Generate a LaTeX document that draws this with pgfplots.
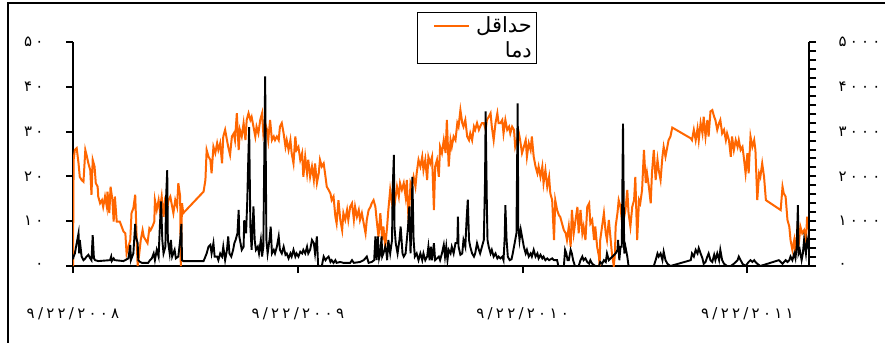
\documentclass[border=0pt]{standalone}
\usepackage{pgfplots}
\pgfplotsset{compat=1.18}
\usepackage{fontspec}
\setmainfont{Liberation Sans}
\newfontfamily\arabicfont[Script=Arabic]{DejaVu Sans}
\newfontfamily\pdigits[Script=Arabic,LetterSpace=22]{DejaVu Sans}
\TeXXeTstate=1
\definecolor{myorange}{RGB}{255,102,0}
\begin{document}
\begin{tikzpicture}
\begin{axis}[name=ax, scale only axis, width=736bp, height=224bp,
  xmin=0, xmax=1195, ymin=0, ymax=50,
  axis x line*=bottom, axis y line*=left,
  axis line style={line width=2.2bp,-},
  xtick={0,365,730,1095},
  xticklabels={۹/۲۲/۲۰۰۸,۹/۲۲/۲۰۰۹,۹/۲۲/۲۰۱۰,۹/۲۲/۲۰۱۱},
  ytick={0,10,20,30,40,50},
  yticklabels={۰,۱۰,۲۰,۳۰,۴۰,۵۰},
  tick align=outside, major tick length=7bp,
  tick style={line width=2bp,black},
  ticklabel style={font=\pdigits\fontsize{15}{17}\selectfont},
  xticklabel style={yshift=-31bp},
  yticklabel style={xshift=-19bp},
  legend style={at={(0.4674,1.135)}, anchor=north west, draw=black, line width=1.4bp,
    font=\arabicfont\fontsize{21}{24}\selectfont, row sep=3bp, inner sep=2.5bp,
    /tikz/every odd column/.append style={column sep=4bp}},
  legend cell align=right,
  legend image code/.code={\path (-13bp,0bp); \draw[#1] (0bp,0bp) -- (35bp,0bp);},
]
\addplot[myorange, line width=2bp] coordinates {
(0,0) (1,23.7) (3,25.9) (6,26.3) (9,22.9) (11,19.9) (14,19.2) (17,18.8) (20,25.9) (22,24.8) (25,22.9) (28,21.4) (30,15.9) (32,23.7) (35,22.2) (37,18.5) (40,17.7) (41,15.5) (44,14) (47,14.7) (49,13.2) (52,15.5) (55,13.2) (56,16.6) (59,11.8) (61,17.7) (64,14.7) (66,9.9) (68,15.5) (71,9.9) (74,9.9) (76,9.9) (79,8.8) (82,7.7) (85,7.3) (87,2.8) (90,4.3) (93,5.8) (95,11.8) (98,12.9) (101,15.9) (104,3.6) (105,0) (107,2.1) (110,5.8) (113,8) (115,6.5) (118,5.8) (121,5.1) (124,8.4) (126,8) (129,8.8) (132,9.9) (133,14.7) (136,12.5) (139,14.7) (141,12.5) (144,15.5) (147,11) (150,15.5) (152,11.8) (155,14.7) (158,15.5) (160,14) (163,11.8) (166,14.7) (169,13.2) (171,18.5) (174,15.5) (175,0) (177,14) (179,11.8) (212,16.6) (215,19.2) (217,25.9) (220,24.4) (223,23.7) (225,20.7) (228,26.6) (231,25.2) (234,27.4) (236,25.9) (239,27.4) (242,22.9) (244,28.9) (247,30.4) (250,28.1) (252,26.6) (255,24.8) (258,28.9) (261,29.6) (263,28.1) (266,34.1) (269,25.9) (271,30.4) (274,28.9) (277,31.9) (280,28.1) (282,32.6) (285,34.1)
(288,32.6) (290,33.3) (293,31.1) (296,28.9) (298,31.1) (301,29.6) (304,32.6) (307,34.1) (309,29.6) (312,31.9) (315,30.4) (317,28.1) (320,32.6) (323,28.1) (326,28.9) (328,28.1) (331,28.9) (334,28.1) (336,31.1) (339,31.9) (342,29.6) (345,26.6) (347,28.1) (350,25.9) (353,28.1) (355,25.2) (358,22.9) (361,28.9) (363,25.9) (366,26.6) (369,23.7) (372,25.2) (374,19.9) (377,24.4) (380,20.7) (382,23.7) (385,19.9) (388,22.2) (391,19.2) (393,22.9) (396,18.5) (399,20.7) (401,23.7) (404,22.2) (407,22.9) (410,19.9) (412,17.7) (415,17) (418,16.2) (420,14.7) (423,15.5) (426,11) (428,9.5) (431,14.7) (434,10.3) (437,8) (439,11.8) (442,10.3) (445,12.5) (447,10.3) (450,13.2) (453,14) (456,10.3) (458,13.2) (461,11) (464,12.5) (466,10.3) (469,11.8) (472,9.5) (475,7.3) (477,10.3) (480,12.5) (483,13.2) (485,14) (488,14.7) (491,13.2) (493,10.3) (496,6.5) (499,11.8) (502,5.8) (504,8.8) (507,4.3) (510,8.8) (512,12.5) (515,17) (518,14) (521,16.2) (523,14.7) (526,17.7) (529,15.5) (531,18.5) (534,17) (537,18.5) (540,15.5) (542,19.2) (545,9.5) (548,18.5) (550,17.7) (553,19.9) (556,17.7) (558,20.7) (561,23.7) (564,22.2) (567,24.4) (569,21.4) (572,23.7) (575,19.2) (577,24.4) (580,22.9) (583,24.4) (586,12.5) (588,22.2) (591,23.7)
(594,19.9) (596,26.6) (599,25.2) (602,28.1) (605,25.2) (607,32.6) (610,22.2) (613,28.1) (615,26.6) (618,28.9) (621,28.1) (624,31.9) (626,31.1) (629,34.8) (632,31.9) (634,31.1) (637,32.6) (640,28.9) (643,28.1) (645,29.6) (648,28.1) (651,31.1) (653,30.4) (656,31.9) (659,30.4) (661,31.1) (664,31.9) (667,31.9) (670,30.4) (672,32.6) (675,33.3) (678,34.1) (680,31.1) (683,28.1) (686,31.9) (689,34.1) (691,31.9) (694,31.9) (697,32.6) (699,29.6) (702,32.6) (705,30.4) (708,31.1) (710,29.6) (713,31.1) (716,30.4) (718,26.6) (721,28.1) (724,29.6) (726,28.1) (729,25.2) (732,26.6) (735,28.1) (737,24.4) (740,27.4) (743,25.9) (745,28.9) (748,24.4) (751,22.2) (754,20.7) (756,22.2) (759,19.9) (762,22.2) (764,18.5) (767,21.4) (770,17.7) (773,19.9) (775,16.2) (778,14.7) (781,5.8) (783,14.7) (786,12.5) (789,11.3) (791,11) (794,9.5) (797,8) (800,7.3) (802,5.8) (805,8.8) (808,4.3) (810,12.5) (813,7.3) (816,10.3) (819,13.2) (821,7.3) (824,12.5) (827,7.3) (829,8.8) (832,5.8) (835,13.2) (838,14) (840,9.5) (843,10.3) (846,5.8) (848,8.8) (851,4.3) (854,2.1) (855,0) (856,5.8) (859,8.8) (862,11.8) (865,7.3) (867,5.8) (870,10.3) (873,5.8) (875,2.8) (878,0) (880,2.8) (881,8.8) (884,11.8) (886,14.7) (889,13.2)
(892,8.8) (894,10.3) (897,12.5) (900,17) (902,11.8) (905,8.8) (908,13.2) (911,14.7) (913,19.9) (916,5.8) (919,14.7) (921,14) (924,17) (927,25.9) (930,18.5) (932,20.7) (935,17.7) (938,14) (940,20.7) (943,25.9) (946,19.2) (949,23.7) (951,21.4) (954,19.2) (957,24.4) (959,26.6) (962,24.4) (965,26.6) (967,28.1) (970,28.9) (973,30.9) (1003,28.5) (1005,28.1) (1008,30.4) (1011,28.1) (1014,30.7) (1016,28.1) (1019,31.9) (1022,29.6) (1024,33.3) (1027,28.9) (1030,32.6) (1032,28.9) (1035,34.5) (1038,34.8) (1041,33.3) (1043,32.6) (1046,30.4) (1049,31.9) (1051,32.6) (1054,29.6) (1057,30.4) (1060,28.1) (1062,29.6) (1065,28.1) (1068,24.4) (1070,28.9) (1073,25.9) (1076,28.1) (1079,26.6) (1081,28.1) (1084,25.9) (1087,26.6) (1089,24.4) (1092,20.7) (1095,25.2) (1097,20.7) (1100,28.9) (1103,26.6) (1106,28.1) (1108,25.9) (1111,14.7) (1114,20.7) (1116,19.9) (1119,22.9) (1122,19.9) (1125,14.7) (1149,12.5) (1152,17.7) (1154,16.2) (1157,15.5) (1160,10.3) (1163,8.8) (1165,5.8) (1168,3.6) (1171,5.8) (1173,2.8) (1176,8) (1179,5.8) (1181,8.8) (1184,7.3) (1187,8) (1190,5.8) (1192,11) (1195,8)
};
\addlegendentry{\beginR حداقل\endR}
\addlegendimage{legend image code/.code={\path (-13bp,0bp) (35bp,0bp);}}
\addlegendentry{\beginR دما\endR}
\end{axis}
\begin{axis}[scale only axis, width=736bp, height=224bp,
  xmin=0, xmax=1195, ymin=0, ymax=5000,
  axis x line=none, axis y line*=right,
  axis line style={line width=2.2bp,-},
  ytick={0,1000,2000,3000,4000,5000},
  yticklabels={۰,۱۰۰۰,۲۰۰۰,۳۰۰۰,۴۰۰۰,۵۰۰۰},
  minor ytick={200,400,600,800,1200,1400,1600,1800,2200,2400,2600,2800,3200,3400,3600,3800,4200,4400,4600,4800},
  tick align=outside, major tick length=7bp, minor tick length=7bp,
  tick style={line width=2bp,black},
  ticklabel style={font=\pdigits\fontsize{15}{17}\selectfont},
  yticklabel style={xshift=19bp},
]
\addplot[black, line width=1.9bp] coordinates {
(0,150) (1,210) (3,280) (6,510) (9,730) (10,280) (11,580) (14,210) (17,130) (20,170) (22,210) (25,250) (28,170) (30,130) (32,690) (34,170) (36,130) (41,110) (60,130) (62,210) (63,110) (66,170) (68,130) (82,110) (90,170) (93,470) (94,130) (98,280) (101,940) (102,660) (105,510) (106,130) (109,90) (112,70) (122,70) (125,130) (128,170) (131,280) (133,130) (136,360) (139,210) (141,880) (143,1440) (145,580) (147,280) (150,430) (151,1480) (153,2140) (154,580) (157,280) (159,580) (161,210) (165,360) (167,170) (171,210) (174,580) (176,940) (177,130) (179,110) (212,110) (215,210) (217,280) (220,430) (223,470) (225,280) (228,510) (230,210) (234,210) (236,130) (239,280) (242,210) (244,430) (247,130) (250,360) (252,660) (254,280) (257,210) (260,360) (262,510) (264,580) (267,730) (269,1250) (270,660) (274,360) (277,430) (278,1020) (281,730) (283,1480) (284,2070) (286,3100) (288,880) (290,360) (293,1330) (295,580) (297,360) (300,430) (302,280) (305,580) (307,210) (309,430) (312,4230) (314,580) (316,280) (319,580) (321,880) (323,280) (326,360) (328,280) (331,430) (334,660) (336,360) (339,280) (342,430) (345,250) (347,280) (350,170) (353,280) (355,210) (358,360) (361,210) (363,280) (366,210) (369,320) (372,280) (374,360) (377,280) (380,430) (382,280) (385,360) (388,580) (391,510) (393,280) (396,660) (398,0) (404,0) (407,210) (410,130) (412,170) (415,210) (418,90) (420,130) (423,70) (426,130) (428,70) (434,90) (439,70) (450,70) (453,130) (456,70) (466,90) (472,130) (477,210) (480,70) (485,90) (489,130) (491,660) (493,130) (495,660) (497,170) (499,280) (501,660) (502,210) (504,280) (507,430) (509,280) (510,130) (512,580) (515,280) (518,580) (519,1700) (521,2480) (522,880) (524,510) (527,280) (530,580) (532,880) (535,280) (537,210) (540,280) (542,580) (544,880) (546,1330) (548,280) (550,1020) (551,1990) (553,580) (555,210) (558,280) (561,130) (564,280) (567,130) (569,280) (572,130) (575,210) (577,430) (579,130) (581,430) (583,130) (586,510) (588,130) (594,210) (596,130) (599,280) (602,470) (604,210) (606,430) (608,130) (610,360) (613,280) (615,430) (618,280) (621,510) (624,510) (625,1100) (626,430) (629,250) (632,280) (634,580) (637,430) (639,1030) (641,1480) (643,580) (645,430) (648,280) (651,210) (653,280) (656,510) (659,360) (661,280) (664,430) (667,580) (669,1920) (670,3450) (672,1330) (673,580) (675,430) (678,280) (680,360) (683,210) (686,280) (689,170) (691,210) (694,170) (697,210) (699,130) (701,660) (702,1360) (704,580) (706,210) (709,130) (712,150) (714,280) (716,430) (718,580) (720,730) (722,3630) (723,880) (725,580) (727,810) (729,660) (732,430) (735,280) (737,360) (740,210) (743,280) (745,210) (748,360) (751,210) (754,280) (756,170) (759,250) (762,170) (764,210) (767,130) (770,170) (773,130) (778,170) (781,130) (786,130) (788,0) (797,0) (799,360) (801,280) (803,130) (805,130) (808,360) (810,280) (812,130) (815,0) (821,0) (824,130) (827,210) (829,130) (832,170) (835,90) (838,50) (840,130) (843,50) (848,0) (854,0) (856,90) (859,50) (862,130) (865,90) (867,280) (870,130) (881,280) (884,360) (885,580) (887,130) (889,430) (891,430) (893,3180) (895,280) (897,430) (900,210) (902,0) (943,0) (946,130) (949,280) (951,210) (954,280) (957,130) (959,320) (962,130) (965,50) (970,0) (1003,130) (1005,280) (1008,210) (1011,360) (1014,280) (1016,400) (1019,280) (1022,170) (1024,50) (1027,90) (1030,210) (1032,280) (1035,130) (1038,90) (1041,250) (1043,130) (1046,280) (1049,130) (1051,360) (1054,130) (1057,50) (1062,0) (1068,0) (1073,50) (1079,130) (1081,210) (1084,130) (1087,50) (1092,0) (1097,90) (1100,130) (1103,90) (1106,130) (1108,90) (1111,50) (1116,0) (1146,130) (1149,90) (1152,50) (1157,130) (1160,90) (1163,130) (1165,210) (1168,130) (1171,280) (1173,170) (1175,430) (1177,1360) (1178,280) (1180,360) (1183,130) (1185,280) (1187,580) (1190,280) (1192,580) (1195,360)
};
\end{axis}
\pgfresetboundingbox
\path[use as bounding box] ([shift={(-73bp,-77bp)}]ax.south west) rectangle ([shift={(76bp,42bp)}]ax.north east);
\draw[line width=2.2bp] ([shift={(-65bp,-85bp)}]ax.south west) -- ([shift={(-65bp,39bp)}]ax.north west) -- ([shift={(85bp,39bp)}]ax.north east);
\end{tikzpicture}
\end{document}
